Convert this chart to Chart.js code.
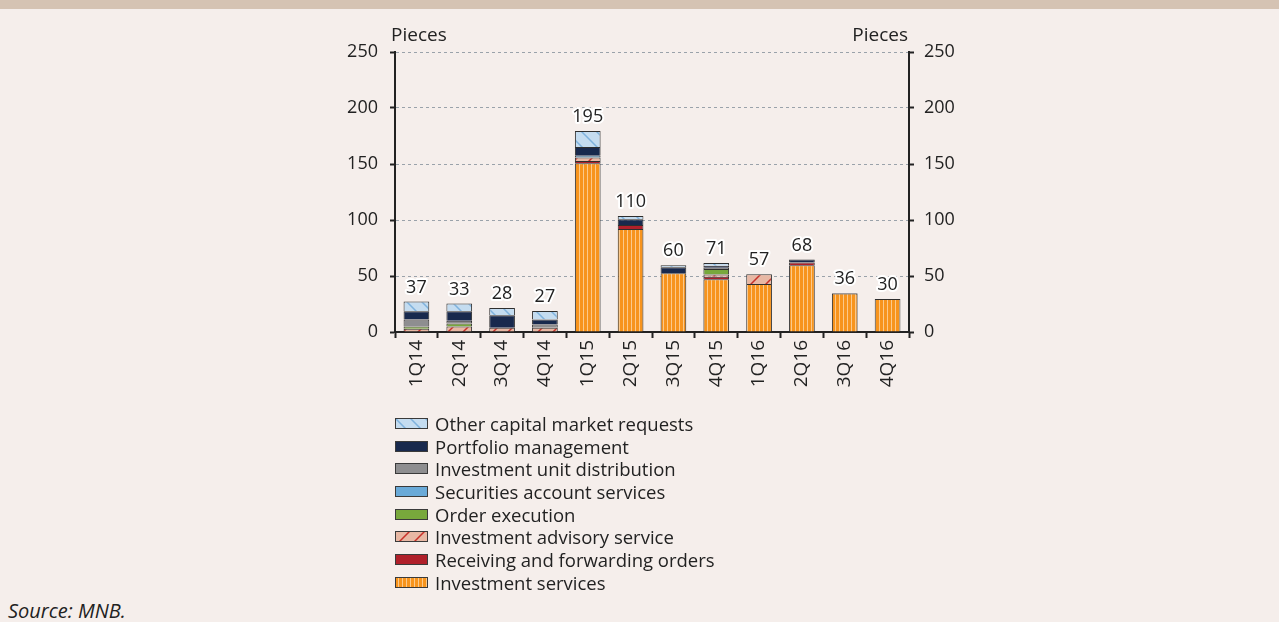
<!DOCTYPE html>
<html>
<head>
<meta charset="utf-8">
<script src="https://cdn.jsdelivr.net/npm/chart.js@4.4.1/dist/chart.umd.min.js"></script>
<style>
  body { margin: 0; width: 1279px; height: 622px; background: #f5eeeb; position: relative; overflow: hidden; font-family: "Open Sans", sans-serif; color: #222; }
  #topband { position: absolute; left: 0; top: 0; width: 1279px; height: 9px; background: #d5c3b3; }
  #chart { position: absolute; left: 0; top: 0; }
  #legend { position: absolute; left: 395px; top: 412px; }
  .row { height: 22.7px; display: flex; align-items: center; font-size: 18.5px; white-space: nowrap; }
  .row canvas { margin-right: 7px; }
  #source { position: absolute; left: 8px; top: 597px; font-size: 20px; font-style: italic; line-height: 28px; }
</style>
</head>
<body>
<div id="topband"></div>
<canvas id="chart" width="1279" height="400"></canvas>
<div id="legend"></div>
<div id="source">Source: MNB.</div>
<script>
// --- data (stacked bottom to top) ---
const quarters = ['1Q14', '2Q14', '3Q14', '4Q14', '1Q15', '2Q15', '3Q15', '4Q15', '1Q16', '2Q16', '3Q16', '4Q16'];
const investmentServices = [0, 0, 0, 0, 150.6, 92, 52.4, 47, 42.9, 59.5, 34.3, 29.5];
const receivingOrders = [0, 0, 0, 0, 2, 3.6, 0, 2.4, 0, 2.5, 0, 0];
const advisoryService = [3, 5, 3.9, 3.9, 3.3, 0, 0, 2, 8.6, 0, 0, 0];
const orderExecution = [2, 2.5, 0, 0, 0, 0, 0, 4.8, 0, 0, 0, 0];
const securitiesAccount = [0, 0, 0, 0, 1.5, 0, 0, 0, 0, 0, 0, 0];
const unitDistribution = [6.2, 2.5, 0, 2.7, 0, 0, 0, 1.2, 0, 0, 0, 0];
const portfolioMgmt = [7.4, 8.5, 11, 4.5, 7.7, 5, 5.4, 1.8, 0, 2.8, 0.6, 0];
const otherRequests = [8.6, 7, 6.5, 7.7, 14.3, 3, 1.8, 2.4, 0, 0, 0, 0];
const totalLabels = [37, 33, 28, 27, 195, 110, 60, 71, 57, 68, 36, 30];
const yTicks = [0, 50, 100, 150, 200, 250];

// --- fill patterns ---
function makeTile(w, h, draw) {
    const c = document.createElement('canvas');
    c.width = w; c.height = h;
    draw(c.getContext('2d'), w, h);
    return c;
}

function hatch(bg, line, dir) {
    return makeTile(15, 15, (g, w, h) => {
        g.fillStyle = bg; g.fillRect(0, 0, w, h);
        g.strokeStyle = line; g.lineWidth = 1.5;
        g.beginPath();
        if (dir === 'back') {
            g.moveTo(0, 0); g.lineTo(w, h);
            g.moveTo(-2, h - 2); g.lineTo(2, h + 2);
            g.moveTo(w - 2, -2); g.lineTo(w + 2, 2);
        } else {
            g.moveTo(0, h); g.lineTo(w, 0);
            g.moveTo(-2, 2); g.lineTo(2, -2);
            g.moveTo(w - 2, h + 2); g.lineTo(w + 2, h - 2);
        }
        g.stroke();
    });
}

const stripeTile = makeTile(4, 4, (g) => {
    g.fillStyle = '#f7941d'; g.fillRect(0, 0, 4, 4);
    g.fillStyle = '#fcc98a'; g.fillRect(3, 0, 1, 4);
});
const otherTile = hatch('#c4dcf0', '#7fb2dd', 'back');
const advisoryTile = hatch('#e8b8a4', '#c8312a', 'fwd');

const pctx = document.getElementById('chart').getContext('2d');

const series = [
    { label: 'Investment services', data: investmentServices, tile: stripeTile },
    { label: 'Receiving and forwarding orders', data: receivingOrders, fill: '#b0202a' },
    { label: 'Investment advisory service', data: advisoryService, tile: advisoryTile },
    { label: 'Order execution', data: orderExecution, fill: '#78a83c' },
    { label: 'Securities account services', data: securitiesAccount, fill: '#6aaad8' },
    { label: 'Investment unit distribution', data: unitDistribution, fill: '#8e8e90' },
    { label: 'Portfolio management', data: portfolioMgmt, fill: '#18294d' },
    { label: 'Other capital market requests', data: otherRequests, tile: otherTile }
];

// --- plugins: axis titles and total labels ---
const extras = {
    id: 'extras',
    afterDatasetsDraw(chart) {
        const { ctx, chartArea, scales } = chart;
        ctx.save();
        ctx.font = '19px "Open Sans"';
        ctx.fillStyle = '#222';
        ctx.textBaseline = 'middle';
        ctx.textAlign = 'left';
        ctx.fillText('Pieces', chartArea.left - 4, chartArea.top - 16);
        ctx.textAlign = 'right';
        ctx.fillText('Pieces', chartArea.right - 1, chartArea.top - 16);

        ctx.font = '18px "Open Sans"';
        ctx.textAlign = 'center';
        ctx.lineJoin = 'round';
        quarters.forEach((q, i) => {
            const sum = series.reduce((s, d) => s + d.data[i], 0);
            const x = scales.x.getPixelForValue(i);
            const y = scales.y.getPixelForValue(sum) - 14;
            ctx.strokeStyle = '#ffffff';
            ctx.lineWidth = 4;
            ctx.strokeText(String(totalLabels[i]), x, y);
            ctx.fillStyle = '#222';
            ctx.fillText(String(totalLabels[i]), x, y);
        });
        ctx.restore();
    }
};

const tickFont = { family: 'Open Sans', size: 18 };

new Chart(pctx, {
    type: 'bar',
    data: {
        labels: quarters,
        datasets: series.map(s => ({
            label: s.label,
            data: s.data.map(v => v || null),
            backgroundColor: s.tile ? pctx.createPattern(s.tile, 'repeat') : s.fill,
            borderColor: '#2e2e2e',
            borderWidth: 1,
            categoryPercentage: 1,
            barPercentage: 0.6,
            yAxisID: 'y'
        }))
    },
    options: {
        responsive: false,
        animation: false,
        layout: { padding: { left: 335, right: 310, top: 52, bottom: 0 } },
        plugins: { legend: { display: false }, tooltip: { enabled: false } },
        scales: {
            x: {
                stacked: true,
                afterFit: s => { s.height = 68; },
                grid: { drawOnChartArea: false, drawTicks: true, tickLength: 6, tickColor: '#222', tickWidth: 2 },
                border: { display: true, color: '#222', width: 2 },
                ticks: { font: { family: 'Open Sans', size: 19 }, color: '#222', minRotation: 90, maxRotation: 90, padding: 2 }
            },
            y: {
                stacked: true,
                position: 'left',
                min: 0,
                max: 250,
                afterFit: s => { s.width = 60; },
                afterBuildTicks: s => { s.ticks = yTicks.map(v => ({ value: v })); },
                grid: {
                    color: ctx => ctx.tick && ctx.tick.value === 0 ? 'rgba(0,0,0,0)' : '#9aa2aa',
                    lineWidth: 1,
                    tickLength: 5,
                    tickColor: '#222',
                    tickWidth: 2
                },
                border: { display: true, color: '#222', width: 2, dash: [3, 3] },
                ticks: { font: tickFont, color: '#222', padding: 12 }
            },
            y2: {
                position: 'right',
                min: 0,
                max: 250,
                afterFit: s => { s.width = 60; },
                afterBuildTicks: s => { s.ticks = yTicks.map(v => ({ value: v })); },
                grid: { drawOnChartArea: false, tickLength: 5, tickColor: '#222', tickWidth: 2 },
                border: { display: true, color: '#222', width: 2 },
                ticks: { font: tickFont, color: '#222', padding: 10 }
            }
        }
    },
    plugins: [extras]
});

// --- legend (top item first) ---
const legend = document.getElementById('legend');
[...series].reverse().forEach(s => {
    const row = document.createElement('div');
    row.className = 'row';
    const sw = document.createElement('canvas');
    sw.width = 33; sw.height = 11;
    const g = sw.getContext('2d');
    g.fillStyle = s.tile ? g.createPattern(s.tile, 'repeat') : s.fill;
    g.fillRect(0, 0, 33, 11);
    g.strokeStyle = '#3a3a3a';
    g.lineWidth = 1;
    g.strokeRect(0.5, 0.5, 32, 10);
    row.appendChild(sw);
    const t = document.createElement('span');
    t.textContent = s.label;
    row.appendChild(t);
    legend.appendChild(row);
});
</script>
</body>
</html>
